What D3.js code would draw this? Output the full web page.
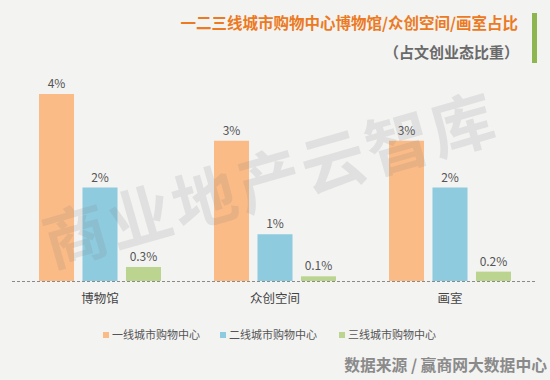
<!DOCTYPE html>
<html><head><meta charset="utf-8">
<script src="https://cdn.jsdelivr.net/npm/d3@7"></script>
<style>
html,body{margin:0;padding:0;background:#f3f3f2;}
svg{display:block;}
</style></head>
<body>
<svg id="chart" width="550" height="380"></svg>
<script>
const categories = ["博物馆", "众创空间", "画室"];
const seriesNames = ["一线城市购物中心", "二线城市购物中心", "三线城市购物中心"];
const tier1 = [4, 3, 3];
const tier2 = [2, 1, 2];
const tier3 = [0.3, 0.1, 0.2];
const valueLabels = [["4%", "2%", "0.3%"], ["3%", "1%", "0.1%"], ["3%", "2%", "0.2%"]];
const colors = ["#fbbb87", "#8fcbdf", "#bbd48f"];
const title = "一二三线城市购物中心博物馆/众创空间/画室占比";
const subtitle = "（占文创业态比重）";
const source = "数据来源 / 赢商网大数据中心";
const watermark = "商业地产云智库";

const series = [tier1, tier2, tier3];
const svg = d3.select("#chart");
const font = "'Noto Sans CJK SC', 'Noto Sans', sans-serif";

// background
svg.append("rect").attr("width", 550).attr("height", 380).attr("fill", "#f3f3f2");

const x0 = d3.scaleBand().domain(categories).range([12.5, 537.5]);
const x1 = d3.scaleBand().domain(d3.range(series.length)).range([26.5, 148.5]).paddingInner(0.195);
const y = d3.scaleLinear().domain([0, 4]).range([281, 94]);

// title
svg.append("text").attr("x", 518).attr("y", 29).attr("text-anchor", "end")
  .attr("font-family", font).attr("font-weight", "bold").attr("font-size", 15.5)
  .attr("fill", "#ec7a22").text(title);
svg.append("text").attr("x", 519).attr("y", 58).attr("text-anchor", "end")
  .attr("font-family", font).attr("font-weight", "bold").attr("font-size", 15)
  .attr("fill", "#6a6a6a").text(subtitle);
svg.append("rect").attr("x", 532).attr("y", 13).attr("width", 5).attr("height", 50).attr("fill", "#8db650");

// bars
const groups = svg.append("g").selectAll("g").data(categories).join("g")
  .attr("transform", d => `translate(${x0(d)},0)`);
groups.each(function(cat, ci) {
  const g = d3.select(this);
  const vals = series.map((s, si) => ({si, v: s[ci], label: valueLabels[ci][si]}));
  g.selectAll("rect").data(vals).join("rect")
    .attr("x", d => x1(d.si)).attr("width", x1.bandwidth())
    .attr("y", d => y(d.v)).attr("height", d => y(0) - y(d.v))
    .attr("fill", d => colors[d.si]);
  g.selectAll("text.val").data(vals).join("text").attr("class", "val")
    .attr("x", d => x1(d.si) + x1.bandwidth() / 2).attr("y", d => y(d.v) - 6)
    .attr("text-anchor", "middle").attr("font-family", font).attr("font-size", 12)
    .attr("fill", "#555").text(d => d.label);
});

// watermark, drawn over the bars, semi-transparent
svg.append("text").attr("transform", "translate(272,186) rotate(-16)")
  .attr("text-anchor", "middle").attr("dominant-baseline", "middle")
  .attr("font-family", font).attr("font-weight", "bold").attr("font-size", 64)
  .attr("letter-spacing", 3)
  .attr("fill", "#7a7a7a").attr("fill-opacity", 0.15).attr("pointer-events", "none").text(watermark);

// baseline
svg.append("line").attr("x1", 12).attr("x2", 537).attr("y1", y(0) + 0.5).attr("y2", y(0) + 0.5)
  .attr("stroke", "#8a8a8a").attr("stroke-width", 1).attr("stroke-dasharray", "3,2");

// category axis labels
const xAxis = d3.axisBottom(x0).tickSize(0).tickPadding(13);
const ax = svg.append("g").attr("transform", `translate(0,${y(0)})`).call(xAxis);
ax.select(".domain").remove();
ax.selectAll("text").attr("font-family", font).attr("font-size", 12.5).attr("fill", "#444");

// legend
const legendX = [103, 220, 339];
const lg = svg.append("g").selectAll("g").data(seriesNames).join("g")
  .attr("transform", (d, i) => `translate(${legendX[i]},335)`);
lg.append("rect").attr("x", 0).attr("y", -3).attr("width", 6).attr("height", 6).attr("fill", (d, i) => colors[i]);
lg.append("text").attr("x", 9).attr("y", 4).attr("font-family", font).attr("font-size", 11)
  .attr("fill", "#555").text(d => d);

// source
svg.append("text").attr("x", 547).attr("y", 371).attr("text-anchor", "end")
  .attr("font-family", font).attr("font-weight", "bold").attr("font-size", 15.8)
  .attr("fill", "#8a8a8a").text(source);
</script>
</body></html>
